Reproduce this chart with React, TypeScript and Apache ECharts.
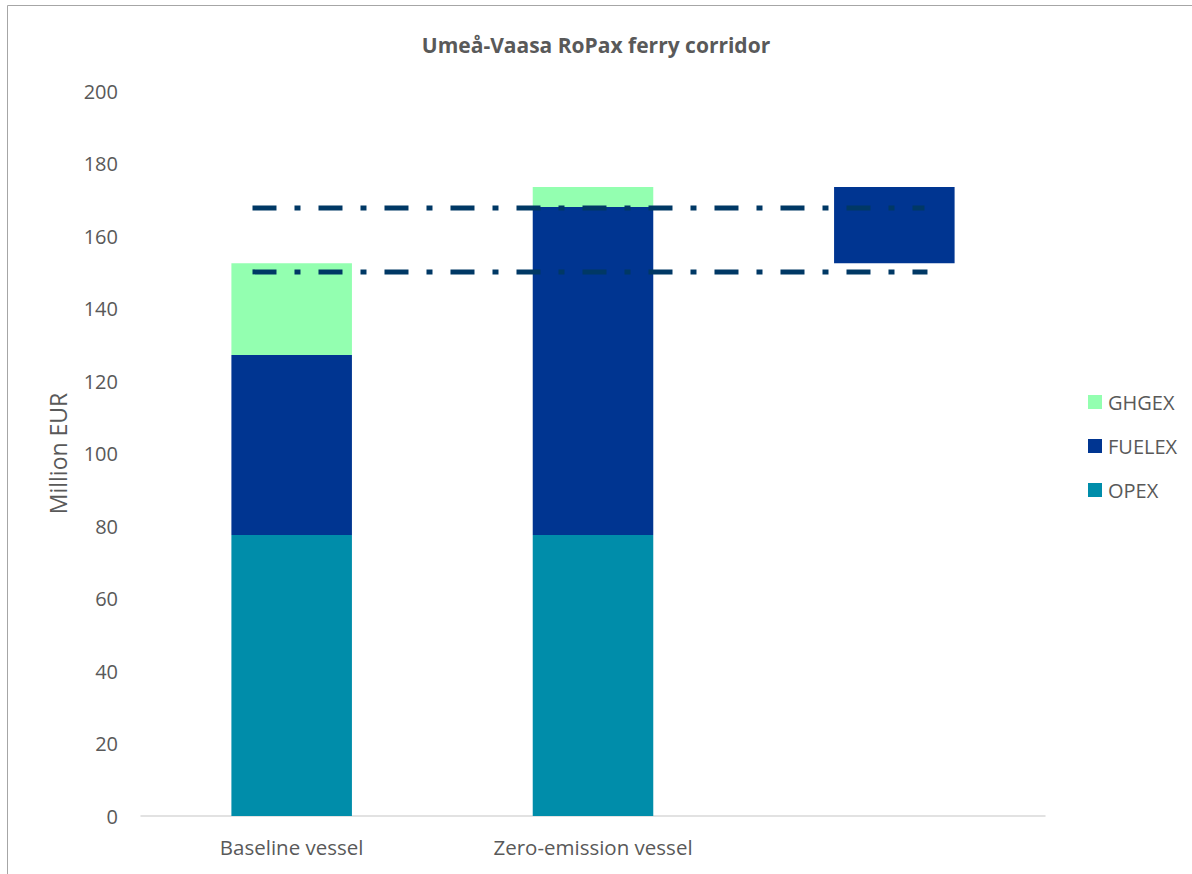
import React, { useEffect, useRef } from "react";
import * as echarts from "echarts";

const categories = ["Baseline vessel", "Zero-emission vessel", ""];
const baseValues = [0, 0, 152.5];
const opexValues = [77.5, 77.5, 0];
const fuelexValues = [49.7, 90.5, 21];
const ghgexValues = [25.3, 5.5, -0.7];
const upperLine = [[0.37, 167.7], [2.6, 167.7]];
const lowerLine = [[0.37, 150.1], [2.61, 150.1]];
const yTicks = { min: 0, max: 200, interval: 20 };

const FONT = "'Open Sans', 'Noto Sans', sans-serif";
const TXT = "#595959";

export default function App() {
  const ref = useRef<HTMLDivElement>(null);
  useEffect(() => {
    if (!ref.current) return;
    const chart = echarts.init(ref.current, undefined, { renderer: "svg" });
    const barCommon = {
      type: "bar",
      stack: "total",
      barCategoryGap: "60%",
      xAxisIndex: 0,
      yAxisIndex: 0,
    };
    const dash = { color: "#003865", width: 5, type: [24, 18, 6, 18], cap: "butt" };
    chart.setOption({
      animation: false,
      backgroundColor: "#ffffff",
      textStyle: { fontFamily: FONT },
      title: {
        text: "Umeå-Vaasa RoPax ferry corridor",
        left: "center",
        top: 29,
        textStyle: { fontFamily: FONT, fontSize: 21, fontWeight: "bold", color: TXT },
      },
      graphic: [
        {
          type: "rect",
          shape: { x: 7.5, y: 5.5, width: 1200, height: 900 },
          style: { fill: "none", stroke: "#a6a6a6", lineWidth: 1 },
          silent: true,
        },
      ],
      legend: {
        orient: "vertical",
        left: 1088,
        top: 392,
        padding: 0,
        itemWidth: 14,
        itemHeight: 14,
        itemGap: 24,
        icon: "rect",
        data: ["GHGEX", "FUELEX", "OPEX"],
        textStyle: { fontFamily: FONT, fontSize: 20, color: TXT, padding: [0, 0, 0, 1] },
      },
      grid: { left: 141, right: 147, top: 91, bottom: 58, containLabel: false },
      xAxis: [
        {
          type: "category",
          data: categories,
          axisLine: { show: true, lineStyle: { color: "#d9d9d9", width: 1.5 } },
          axisTick: { show: false },
          axisLabel: { fontFamily: FONT, fontSize: 20.5, color: TXT, margin: 20 },
        },
        {
          type: "value",
          min: 0,
          max: 3,
          show: false,
        },
      ],
      yAxis: {
        type: "value",
        min: yTicks.min,
        max: yTicks.max,
        interval: yTicks.interval,
        name: "Million EUR",
        nameLocation: "middle",
        nameRotate: 90,
        nameGap: 72,
        nameTextStyle: { fontFamily: FONT, fontSize: 23, color: TXT },
        axisLine: { show: false },
        axisTick: { show: false },
        splitLine: { show: false },
        axisLabel: { fontFamily: FONT, fontSize: 20, color: TXT, margin: 23 },
      },
      series: [
        {
          ...barCommon,
          name: "base",
          data: baseValues,
          itemStyle: { color: "rgba(0,0,0,0)" },
          silent: true,
        },
        { ...barCommon, name: "OPEX", data: opexValues, itemStyle: { color: "#008DAA" } },
        { ...barCommon, name: "FUELEX", data: fuelexValues, itemStyle: { color: "#003591" } },
        { ...barCommon, name: "GHGEX", data: ghgexValues, itemStyle: { color: "#93FFB0" } },
        {
          type: "line",
          name: "upper",
          xAxisIndex: 1,
          yAxisIndex: 0,
          data: upperLine,
          symbol: "none",
          z: 5,
          lineStyle: dash,
        },
        {
          type: "line",
          name: "lower",
          xAxisIndex: 1,
          yAxisIndex: 0,
          data: lowerLine,
          symbol: "none",
          z: 5,
          lineStyle: dash,
        },
      ],
    });
    return () => chart.dispose();
  }, []);
  return (
    <div
      ref={ref}
      style={{ position: "absolute", left: 0, top: 0, width: 1192, height: 874 }}
    />
  );
}
